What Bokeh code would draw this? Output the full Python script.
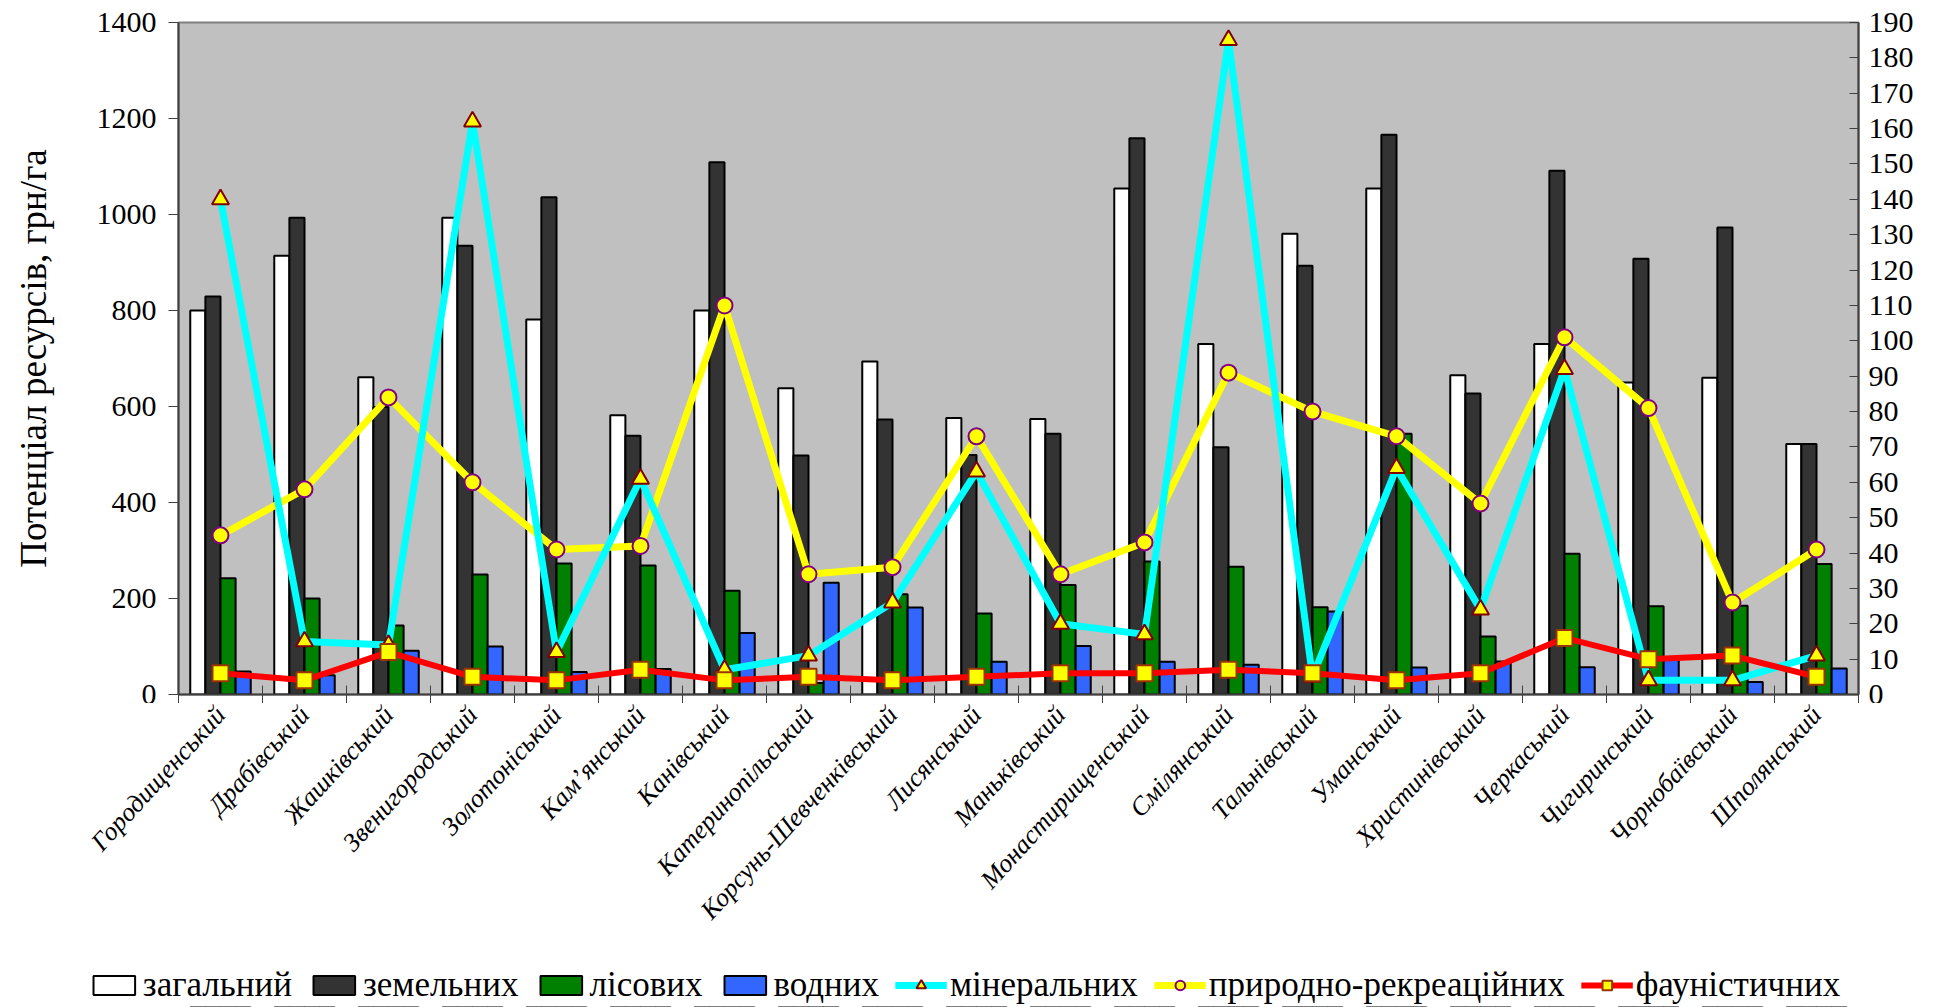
import numpy as np
from bokeh.plotting import figure
from bokeh.models import (Range1d, LinearAxis, FixedTicker, Legend, LegendItem,
                          ColumnDataSource)
from bokeh.core.properties import value
from bokeh.embed import file_html
from bokeh.resources import INLINE

categories = ["Городищенський", "Драбівський", "Жашківський", "Звенигородський",
              "Золотоніський", "Кам’янський", "Канівський", "Катеринопільський",
              "Корсунь-Шевченківський", "Лисянський", "Маньківський",
              "Монастирищенський", "Смілянський", "Тальнівський", "Уманський",
              "Христинівський", "Черкаський", "Чигиринський", "Чорнобаївський",
              "Шполянський"]

zahalnyi = [800, 914, 661, 993, 781, 582, 800, 638, 694, 576, 574, 1054, 730, 960,
            1054, 665, 730, 650, 660, 522]
zemelnykh = [829, 993, 599, 935, 1036, 539, 1109, 498, 573, 499, 543, 1159, 515, 893,
             1166, 627, 1091, 908, 973, 522]
lisovykh = [242, 200, 144, 250, 273, 269, 216, 24, 209, 169, 228, 277, 266, 182,
            543, 121, 293, 184, 185, 272]
vodnykh = [48, 40, 91, 100, 47, 53, 128, 233, 181, 68, 101, 68, 62, 173,
           56, 69, 57, 75, 26, 54]
mineralnykh = [140, 15, 14, 162, 12, 61, 7, 11, 26, 63, 20, 17, 185, 5,
               64, 24, 92, 4, 4, 11]
pryrodno_rekr = [45, 58, 84, 60, 41, 42, 110, 34, 36, 73, 34, 43, 91, 80,
                 73, 54, 101, 81, 26, 41]
faunistychnykh = [6, 4, 12, 5, 4, 7, 4, 5, 4, 5, 6, 6, 7, 6,
                  4, 6, 16, 10, 11, 5]

left_ticks = list(range(0, 1401, 200))
right_ticks = list(range(0, 191, 10))

FONT = "Liberation Serif"
n = len(categories)
centers = np.arange(n) + 0.5

# layout sizes (pixels)
LEFT, TOP, RIGHT = 178, 22, 70
FW, FH = 1680, 672
TICK = 9
TOTAL_W = LEFT + FW + RIGHT
H2 = 1007 - (TOP + FH + TICK)
px_per_unit = FW / n

p = figure(frame_width=FW, frame_height=FH,
           x_range=Range1d(0, n), y_range=Range1d(0, 1400),
           output_backend="svg", toolbar_location=None,
           min_border_left=LEFT, min_border_top=TOP, min_border_right=RIGHT,
           min_border_bottom=0)
p.background_fill_color = "#C0C0C0"
p.border_fill_color = "white"
p.outline_line_color = "#808080"
p.outline_line_width = 2
p.xgrid.visible = False
p.ygrid.visible = False
p.extra_y_ranges = {"right": Range1d(0, 190)}

# x axis: tick marks between categories (labels drawn in the panel below)
xa = p.xaxis[0]
xa.ticker = FixedTicker(ticks=[], minor_ticks=list(range(n + 1)))
xa.major_tick_line_color = None
xa.major_tick_in = 0
xa.major_tick_out = TICK
xa.minor_tick_in = 9
xa.minor_tick_out = TICK
xa.minor_tick_line_color = "#404040"
xa.minor_tick_line_width = 1
xa.axis_line_color = "#404040"
xa.axis_line_width = 2
xa.major_label_standoff = 0

# left axis
ya = p.yaxis[0]
ya.ticker = FixedTicker(ticks=left_ticks)
ya.major_tick_in = 0
ya.major_tick_out = 10
ya.minor_tick_line_color = None
ya.major_tick_line_color = "#404040"
ya.axis_line_color = "#404040"
ya.axis_line_width = 2
ya.major_label_text_font = FONT
ya.major_label_text_font_size = "30px"
ya.major_label_text_color = "black"
ya.major_label_standoff = 12
ya.axis_label = "Потенціал ресурсів, грн/га"
ya.axis_label_text_font = FONT
ya.axis_label_text_font_style = "normal"
ya.axis_label_text_font_size = "37px"
ya.axis_label_text_color = "black"
ya.axis_label_standoff = 40

# right axis
ra = LinearAxis(y_range_name="right", ticker=FixedTicker(ticks=right_ticks))
ra.major_tick_in = 9
ra.major_tick_out = 0
ra.minor_tick_line_color = None
ra.major_tick_line_color = "#404040"
ra.axis_line_color = "#404040"
ra.axis_line_width = 2
ra.major_label_text_font = FONT
ra.major_label_text_font_size = "30px"
ra.major_label_text_color = "black"
ra.major_label_standoff = 10
p.add_layout(ra, "right")

bw = 0.18
offs = [-0.27, -0.09, 0.09, 0.27]
bar_colors = ["#FFFFFF", "#333333", "#008000", "#3366FF"]
bar_series = [zahalnyi, zemelnykh, lisovykh, vodnykh]
for vals, col, off in zip(bar_series, bar_colors, offs):
    src = ColumnDataSource(dict(x=centers + off, top=vals))
    p.vbar(x="x", top="top", width=bw, bottom=0, source=src,
           fill_color=col, line_color="black", line_width=2)

src_l = ColumnDataSource(dict(x=centers, mn=mineralnykh, pr=pryrodno_rekr,
                              fa=faunistychnykh))

line_styles = {
    "pr": dict(line_color="#FFFF00", line_width=7, marker="circle", size=16,
               mline="#800080"),
    "mn": dict(line_color="#00FFFF", line_width=7, marker="triangle", size=17,
               mline="#800000"),
    "fa": dict(line_color="#FF0000", line_width=6, marker="square", size=16,
               mline="#993300"),
}
for key in ["pr", "mn", "fa"]:
    st = line_styles[key]
    p.line("x", key, source=src_l, y_range_name="right",
           line_color=st["line_color"], line_width=st["line_width"])
    p.scatter("x", key, source=src_l, y_range_name="right", marker=st["marker"],
              size=st["size"], fill_color="#FFFF00", line_color=st["mline"],
              line_width=2)

# lower panel: category labels + legend, with the same horizontal scale
p2 = figure(width=TOTAL_W, height=H2,
            x_range=Range1d(-LEFT / px_per_unit, (TOTAL_W - LEFT) / px_per_unit),
            y_range=Range1d(0, H2), x_axis_type=None, y_axis_type=None,
            min_border=0, output_backend="svg", toolbar_location=None)
p2.outline_line_color = None
p2.background_fill_color = "white"
p2.border_fill_color = "white"
p2.xgrid.visible = False
p2.ygrid.visible = False
# a range far outside the visible panel: legend proxies drawn there stay hidden
p2.extra_y_ranges = {"hidden": Range1d(5000, 6000)}

lab_src = ColumnDataSource(dict(x=centers, y=[H2 - 7] * n, text=categories))
p2.text(x="x", y="y", text="text", source=lab_src, angle=0.83,
        text_align="right", text_baseline="middle",
        text_font=value(FONT), text_font_style="italic",
        text_font_size="26px", text_color="black")

leg_bars = []
for vals, col, off in zip(bar_series, bar_colors, offs):
    s = ColumnDataSource(dict(x=centers + off, top=vals))
    leg_bars.append(p2.vbar(x="x", top="top", width=bw, bottom=0, source=s,
                            y_range_name="hidden", fill_color=col,
                            line_color="black", line_width=2))
leg_lines = {}
for key in ["mn", "pr", "fa"]:
    st = line_styles[key]
    lr = p2.line("x", key, source=src_l, y_range_name="hidden",
                 line_color=st["line_color"], line_width=st["line_width"])
    sr = p2.scatter("x", key, source=src_l, y_range_name="hidden",
                    marker=st["marker"], size=st["size"], fill_color="#FFFF00",
                    line_color=st["mline"], line_width=2)
    leg_lines[key] = [lr, sr]

items = [
    LegendItem(label="загальний", renderers=[leg_bars[0]]),
    LegendItem(label="земельних", renderers=[leg_bars[1]]),
    LegendItem(label="лісових", renderers=[leg_bars[2]]),
    LegendItem(label="водних", renderers=[leg_bars[3]]),
    LegendItem(label="мінеральних", renderers=leg_lines["mn"]),
    LegendItem(label="природно-рекреаційних", renderers=leg_lines["pr"]),
    LegendItem(label="фауністичних", renderers=leg_lines["fa"]),
]
legend = Legend(items=items, orientation="horizontal", location="bottom_center",
                label_text_font=FONT, label_text_font_size="35px",
                label_text_color="black", glyph_width=52, glyph_height=24,
                spacing=16, label_standoff=3, padding=0, margin=2,
                border_line_color=None, background_fill_alpha=0)
p2.add_layout(legend, "center")

open("out.html", "w").write(file_html([p, p2], INLINE))
